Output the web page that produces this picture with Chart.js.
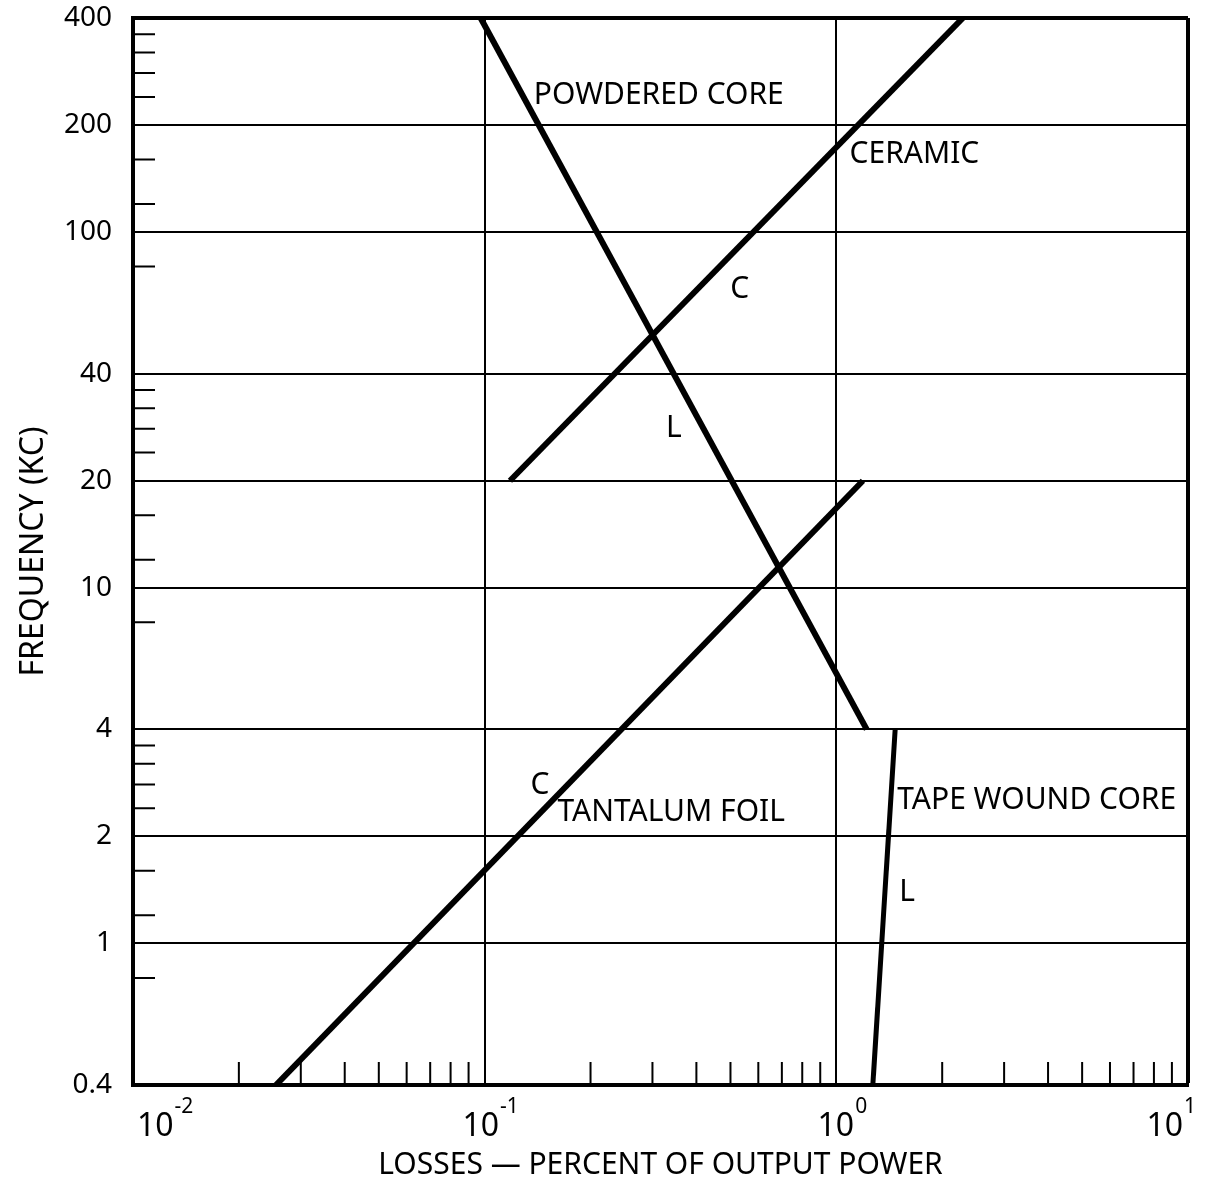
<!DOCTYPE html>
<html>
<head>
<meta charset="utf-8">
<title>Losses vs frequency</title>
<script src="https://cdn.jsdelivr.net/npm/chart.js@4.4.1/dist/chart.umd.min.js"></script>
<style>
  html, body { margin: 0; padding: 0; background: #fff; }
</style>
</head>
<body>
<canvas id="myChart" width="1205" height="1196"></canvas>
<script>
// ejes logarítmicos: pérdidas (%) en x, frecuencia (kc) en y
const xMajor = [0.01, 0.1, 1, 10];
const xExp = ["-2", "-1", "0", "1"];
const xMinor = [0.02, 0.03, 0.04, 0.05, 0.06, 0.07, 0.08, 0.09,
                0.2, 0.3, 0.4, 0.5, 0.6, 0.7, 0.8, 0.9,
                2, 3, 4, 5, 6, 7, 8, 9];
const yMajor = [0.4, 1, 2, 4, 10, 20, 40, 100, 200, 400];
const yLabels = ["0.4", "1", "2", "4", "10", "20", "40", "100", "200", "400"];
const yMinor = [0.8, 1.2, 1.6, 2.4, 2.8, 3.2, 3.6,
                8, 12, 16, 24, 28, 32, 36,
                80, 120, 160, 240, 280, 320, 360];

// curvas (cada una es recta en log-log)
const powderedLoss = [0.0974, 1.22];
const powderedFreq = [400, 4];
const ceramicLoss = [0.118, 2.29];
const ceramicFreq = [20, 400];
const tantalumLoss = [0.0255, 1.19];
const tantalumFreq = [0.4, 20];
const tapeLoss = [1.27, 1.47];
const tapeFreq = [0.4, 4];

// rótulos sobre el gráfico
const noteText = ["POWDERED CORE", "CERAMIC", "C", "L", "C", "TANTALUM FOIL", "TAPE WOUND CORE", "L"];
const noteLoss = [0.138, 1.09, 0.499, 0.328, 0.135, 0.161, 1.49, 1.51];
const noteFreq = [242, 165, 69.2, 28.0, 2.78, 2.33, 2.52, 1.39];

const FONT = "'Noto Sans', sans-serif";
Chart.defaults.font.family = FONT;
Chart.defaults.color = "#000";

const toPoints = (xs, ys) => xs.map((x, i) => ({ x: x, y: ys[i] }));

const serie = (label, xs, ys, width) => ({
  label: label,
  data: toPoints(xs, ys),
  showLine: true,
  borderColor: "#000",
  borderWidth: width,
  borderCapStyle: "butt",
  pointRadius: 0,
  fill: false,
});

// marcas menores hacia adentro del área
const minorTicks = {
  id: "minorTicks",
  beforeDatasetsDraw(chart) {
    const { ctx, chartArea, scales } = chart;
    ctx.save();
    ctx.strokeStyle = "#000";
    ctx.lineWidth = 2;
    ctx.beginPath();
    xMinor.forEach((v) => {
      const px = scales.x.getPixelForValue(v);
      ctx.moveTo(px, chartArea.bottom);
      ctx.lineTo(px, chartArea.bottom - 23);
    });
    yMinor.forEach((v) => {
      const py = scales.y.getPixelForValue(v);
      ctx.moveTo(chartArea.left, py);
      ctx.lineTo(chartArea.left + 22, py);
    });
    ctx.stroke();
    ctx.restore();
  },
};

// textos de las curvas
const curveNotes = {
  id: "curveNotes",
  afterDatasetsDraw(chart) {
    const { ctx, scales } = chart;
    ctx.save();
    ctx.fillStyle = "#000";
    ctx.font = "30px " + FONT;
    ctx.textAlign = "left";
    ctx.textBaseline = "middle";
    noteText.forEach((t, i) => {
      ctx.fillText(t, scales.x.getPixelForValue(noteLoss[i]), scales.y.getPixelForValue(noteFreq[i]));
    });
    ctx.restore();
  },
};

// etiquetas 10^n con exponente
const powerLabels = {
  id: "powerLabels",
  afterDraw(chart) {
    const { ctx, chartArea, scales } = chart;
    const base = chartArea.bottom + 51;
    ctx.save();
    ctx.fillStyle = "#000";
    ctx.textBaseline = "alphabetic";
    xMajor.forEach((v, i) => {
      ctx.font = "32px " + FONT;
      const wBase = ctx.measureText("10").width;
      ctx.font = "21px " + FONT;
      const wExp = ctx.measureText(xExp[i]).width;
      const total = wBase + 1 + wExp;
      const px = scales.x.getPixelForValue(v);
      let left;
      if (i === 0) left = px + 4;
      else if (i === xMajor.length - 1) left = px + 8 - total;
      else left = px + 6 - total / 2;
      ctx.font = "32px " + FONT;
      ctx.fillText("10", left, base);
      ctx.font = "21px " + FONT;
      ctx.fillText(xExp[i], left + wBase + 1, base - 23);
    });
    ctx.restore();
  },
};

const ctx = document.getElementById("myChart").getContext("2d");

new Chart(ctx, {
  type: "scatter",
  data: {
    datasets: [
      serie("Powdered core", powderedLoss, powderedFreq, 6),
      serie("Ceramic", ceramicLoss, ceramicFreq, 6),
      serie("Tantalum foil", tantalumLoss, tantalumFreq, 6),
      serie("Tape wound core", tapeLoss, tapeFreq, 5),
    ],
  },
  options: {
    responsive: false,
    animation: false,
    layout: { padding: { top: 18, right: 17, left: 0, bottom: 0 } },
    plugins: {
      legend: { display: false },
      tooltip: { enabled: false },
    },
    scales: {
      x: {
        type: "logarithmic",
        min: 0.01,
        max: 10,
        afterBuildTicks: (s) => { s.ticks = xMajor.map((v) => ({ value: v })); },
        afterFit: (s) => { s.height = 111; s.paddingLeft = 0; s.paddingRight = 0; },
        ticks: { display: false },
        grid: {
          color: "#000",
          lineWidth: (c) => (c.tick && c.tick.value === 10 ? 4 : 2),
          drawTicks: false,
        },
        border: { color: "#000", width: 4 },
        title: {
          display: true,
          text: "LOSSES — PERCENT OF OUTPUT POWER",
          font: { size: 30 },
          padding: { top: 0, bottom: 13 },
        },
      },
      y: {
        type: "logarithmic",
        min: 0.4,
        max: 400,
        afterBuildTicks: (s) => { s.ticks = yMajor.map((v) => ({ value: v })); },
        afterFit: (s) => { s.width = 133; s.paddingTop = 0; s.paddingBottom = 0; },
        ticks: {
          font: { size: 28 },
          padding: 21,
          callback: (v) => yLabels[yMajor.indexOf(v)],
        },
        grid: {
          color: "#000",
          lineWidth: (c) => (c.tick && c.tick.value === 400 ? 4 : 2),
          drawTicks: false,
        },
        border: { color: "#000", width: 4 },
        title: {
          display: true,
          text: "FREQUENCY (KC)",
          font: { size: 32 },
          padding: { top: 15, bottom: 0 },
        },
      },
    },
  },
  plugins: [minorTicks, curveNotes, powerLabels],
});
</script>
</body>
</html>
